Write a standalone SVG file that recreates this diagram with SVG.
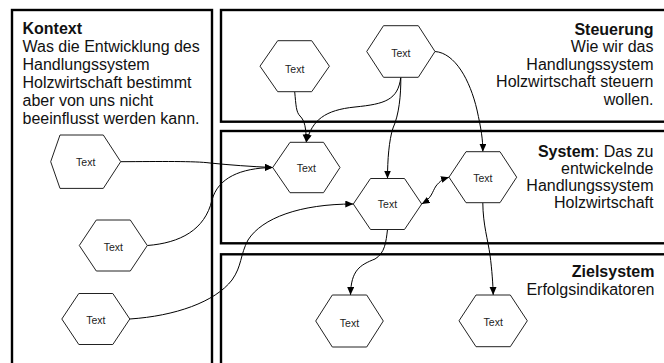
<svg xmlns="http://www.w3.org/2000/svg" width="664" height="363" viewBox="0 0 664 363">
  <style>
    .panel { fill: none; stroke: #000; stroke-width: 2.4; }
    .hex { fill: #fff; stroke: #222; stroke-width: 1; }
    .hl { font-family: "Liberation Sans", Arial, sans-serif; font-size: 10.5px; fill: #222; text-anchor: middle; }
    .lbl { font-family: "Liberation Sans", Arial, sans-serif; font-size: 16px; fill: #111; }
    .r { text-anchor: end; }
    .b { font-weight: bold; }
    .con { fill: none; stroke: #000; stroke-width: 1; }
  </style>
  <defs>
    <marker id="arr" markerUnits="userSpaceOnUse" markerWidth="9" markerHeight="8" refX="8" refY="3.5" orient="auto-start-reverse">
      <path d="M0,0 L8,3.5 L0,7 z" fill="#000"/>
    </marker>
  </defs>

  <rect id="bg" x="0" y="0" width="664" height="363" fill="#fff"/>

  <!-- Panels -->
  <g id="panel-kontext">
    <rect class="panel" x="12" y="10" width="200" height="370"/>
    <text class="lbl" x="22.5" y="34"><tspan class="b">Kontext</tspan></text>
    <text class="lbl" x="22.5" y="51.9">Was die Entwicklung des</text>
    <text class="lbl" x="22.5" y="69.8">Handlungssystem</text>
    <text class="lbl" x="22.5" y="87.7">Holzwirtschaft bestimmt</text>
    <text class="lbl" x="22.5" y="105.6">aber von uns nicht</text>
    <text class="lbl" x="22.5" y="123.5">beeinflusst werden kann.</text>
  </g>
  <g id="panel-steuerung">
    <rect class="panel" x="221" y="10" width="460" height="111.7"/>
    <text class="lbl r b" x="653.5" y="35">Steuerung</text>
    <text class="lbl r" x="653.5" y="52.4">Wie wir das</text>
    <text class="lbl r" x="653.5" y="69.8">Handlungssystem</text>
    <text class="lbl r" x="653.5" y="87.2">Holzwirtschaft steuern</text>
    <text class="lbl r" x="653.5" y="104.6">wollen.</text>
  </g>
  <g id="panel-system">
    <rect class="panel" x="221" y="131" width="460" height="112.3"/>
    <text class="lbl r" x="653.5" y="157.3"><tspan class="b">System</tspan>: Das zu</text>
    <text class="lbl r" x="653.5" y="174.2">entwickelnde</text>
    <text class="lbl r" x="653.5" y="191.1">Handlungssystem</text>
    <text class="lbl r" x="653.5" y="208">Holzwirtschaft</text>
  </g>
  <g id="panel-zielsystem">
    <rect class="panel" x="221" y="254.3" width="460" height="130"/>
    <text class="lbl r b" x="654.5" y="277.3">Zielsystem</text>
    <text class="lbl r" x="654.5" y="294.6">Erfolgsindikatoren</text>
  </g>

  <!-- Connectors -->
  <g id="connectors">
    <path class="con" d="M120.7,161.7 C160,161.5 195,161 210,163 C230,165 250,166.5 272.7,167.5" marker-end="url(#arr)"/>
    <path class="con" d="M147.3,245.5 C180,243 205,230 212,200 C218,178 240,168 272.7,167.5" marker-end="url(#arr)"/>
    <path class="con" d="M129.8,319 C175,316 215,302 232,280 C242,266 240,255 248,240 C262,218 300,204 353.3,204" marker-end="url(#arr)"/>
    <path class="con" d="M294.7,91.7 C296,105 296,112 300,116 C305,121 306,128 306.3,142.3" marker-end="url(#arr)"/>
    <path class="con" d="M400.8,77.3 C398,100 385,104 355,107 C325,110 312,120 306.3,142.3" marker-end="url(#arr)"/>
    <path class="con" d="M400.8,77.3 C401,95 399,115 393,128 C389,140 387.5,160 387.5,178.5" marker-end="url(#arr)"/>
    <path class="con" d="M435,51.5 C455,53 470,80 477,110 C481,128 483,140 482.8,151.7" marker-end="url(#arr)"/>
    <path class="con" d="M421.7,204 C432,198 432,192 436,186 C440,181 443,179 449,177.2" marker-start="url(#arr)" marker-end="url(#arr)"/>
    <path class="con" d="M387.5,229.5 C386,242 385,253 375,259 C360,265 351,270 350.5,295" marker-end="url(#arr)"/>
    <path class="con" d="M482.8,202.7 C483,225 488,240 490,255 C492,270 493,285 493.2,295" marker-end="url(#arr)"/>
  </g>

  <!-- Nodes -->
  <g id="node-k1">
    <polygon class="hex" points="50.7,161.7 60,135 103.3,135 120.7,161.7 103.3,188.4 60,188.4"/>
    <text class="hl" x="85.7" y="165.5">Text</text>
  </g>
  <g id="node-k2">
    <polygon class="hex" points="79.3,245.5 96.3,220 130.3,220 147.3,245.5 130.3,271 96.3,271"/>
    <text class="hl" x="113.3" y="251">Text</text>
  </g>
  <g id="node-k3">
    <polygon class="hex" points="61.8,319 78.8,293.5 112.8,293.5 129.8,319 112.8,344.5 78.8,344.5"/>
    <text class="hl" x="95.8" y="323.8">Text</text>
  </g>
  <g id="node-s1">
    <polygon class="hex" points="260,66.2 277.7,40.7 311.7,40.7 329.4,66.2 311.7,91.7 277.7,91.7"/>
    <text class="hl" x="294.7" y="73">Text</text>
  </g>
  <g id="node-s2">
    <polygon class="hex" points="366.7,51.5 383.5,25.7 418.3,25.7 435,51.5 418.3,77.3 383.5,77.3"/>
    <text class="hl" x="400.8" y="57">Text</text>
  </g>
  <g id="node-y1">
    <polygon class="hex" points="272.7,167.5 290,142.3 323.5,142.3 340,167.5 323.5,192.7 290,192.7"/>
    <text class="hl" x="306.3" y="172">Text</text>
  </g>
  <g id="node-y2">
    <polygon class="hex" points="353.3,204 370.5,178.5 404.5,178.5 421.7,204 404.5,229.5 370.5,229.5"/>
    <text class="hl" x="387.5" y="208">Text</text>
  </g>
  <g id="node-y3">
    <polygon class="hex" points="449,177.2 466,151.7 500,151.7 516.7,177.2 500,202.7 466,202.7"/>
    <text class="hl" x="482.8" y="182">Text</text>
  </g>
  <g id="node-z1">
    <polygon class="hex" points="315.7,321 332.3,295 366.7,295 383.3,321 366.7,347 332.3,347"/>
    <text class="hl" x="349.5" y="326.5">Text</text>
  </g>
  <g id="node-z2">
    <polygon class="hex" points="459,320.8 476,295 510.3,295 527.3,320.8 510.3,346.7 476,346.7"/>
    <text class="hl" x="493.2" y="325.5">Text</text>
  </g>
</svg>
